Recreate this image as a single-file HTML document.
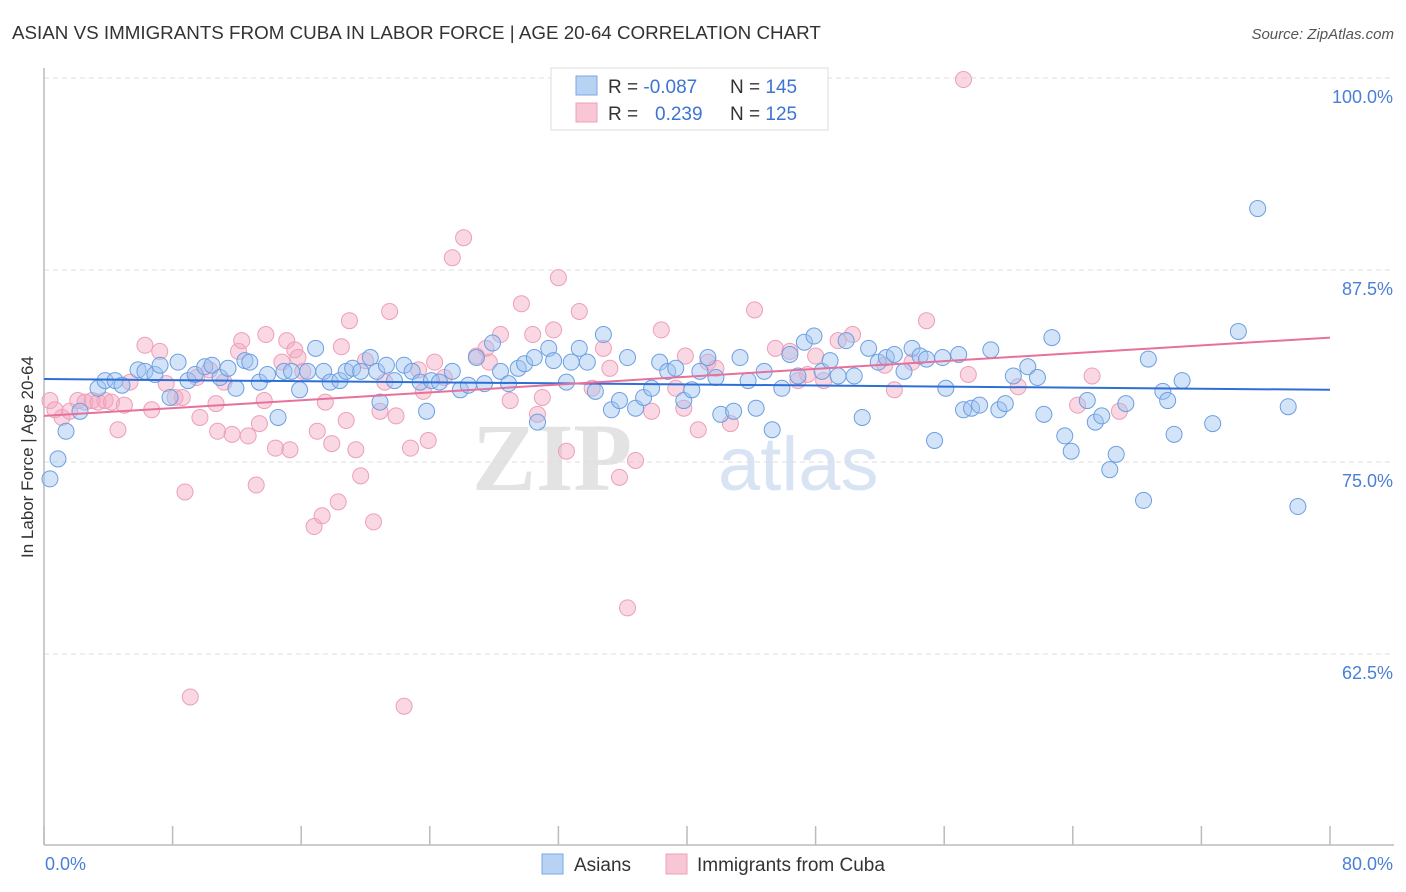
<!DOCTYPE html>
<html><head><meta charset="utf-8"><style>
body{margin:0;background:#fff;font-family:"Liberation Sans",sans-serif;}
svg{display:block}
</style></head><body>
<svg id="chart" width="1406" height="892" xmlns="http://www.w3.org/2000/svg">
<text x="12" y="39" font-size="18.8" fill="#333">ASIAN VS IMMIGRANTS FROM CUBA IN LABOR FORCE | AGE 20-64 CORRELATION CHART</text>
<text x="1394" y="39" font-size="15" fill="#555" text-anchor="end" font-style="italic">Source: ZipAtlas.com</text>
<text transform="translate(33,457) rotate(-90)" font-size="17" fill="#333" text-anchor="middle">In Labor Force | Age 20-64</text>
<g>
<text x="632" y="490" font-size="96" fill="#ddd" font-family="Liberation Serif,serif" text-anchor="end" font-weight="bold" opacity="0.8">ZIP</text>
<text x="718" y="490" font-size="76" fill="#c8d8f0" opacity="0.7">atlas</text>
</g>
<g id="grid"></g><g id="axes"></g><g id="pink"></g><g id="blue"></g><g id="trend"></g>
<g>
<rect x="551" y="68" width="277" height="62" fill="#fff" stroke="#ddd"/>
<rect x="576" y="76" width="21" height="19" fill="#b8d2f4" stroke="#7aa8e6"/>
<rect x="576" y="103" width="21" height="19" fill="#f9c6d5" stroke="#eca0b8"/>
<text x="608" y="93" font-size="19" fill="#333">R = <tspan fill="#3c74d0">-0.087</tspan></text>
<text x="730" y="93" font-size="19" fill="#333">N = <tspan fill="#3c74d0">145</tspan></text>
<text x="608" y="120" font-size="19" fill="#333">R = <tspan fill="#3c74d0" x="655">0.239</tspan></text>
<text x="730" y="120" font-size="19" fill="#333">N = <tspan fill="#3c74d0">125</tspan></text>
</g>
<g>
<rect x="542" y="854" width="21" height="20" fill="#b8d2f4" stroke="#7aa8e6"/>
<text x="574" y="871" font-size="19" fill="#333">Asians</text>
<rect x="666" y="854" width="21" height="20" fill="#f9c6d5" stroke="#eca0b8"/>
<text x="697" y="871" font-size="19" fill="#333">Immigrants from Cuba</text>
</g>
</svg>
<script>
const yTicks=[100,87.5,75,62.5];
const yTickLabels=["100.0%","87.5%","75.0%","62.5%"];
const xTicks=[0,8,16,24,32,40,48,56,64,72,80];
const xEndLabels=["0.0%","80.0%"];
const blueX=[0.37,0.87,1.37,2.24,3.36,3.8,4.42,4.85,5.85,6.28,6.9,7.22,7.84,8.34,8.96,9.4,10.0,10.45,10.95,11.45,11.94,12.5,12.8,13.4,13.9,14.56,14.93,15.4,15.9,16.4,16.9,17.4,17.8,18.4,18.8,19.2,19.7,20.3,20.7,20.9,21.3,21.8,22.4,22.9,23.4,23.8,24.1,24.6,25.4,25.9,26.4,26.9,27.4,27.9,28.4,28.9,29.5,29.9,30.5,30.7,31.4,31.7,32.5,32.8,33.3,33.8,34.3,34.8,35.3,35.8,36.3,36.8,37.3,37.8,38.3,38.8,39.3,39.8,40.3,40.8,41.3,41.8,42.1,42.9,43.3,43.8,44.3,44.8,45.3,45.9,46.4,46.9,47.3,47.9,48.4,48.9,49.4,49.9,50.4,50.9,51.3,51.9,52.4,52.9,53.5,54.0,54.5,54.9,55.4,55.9,56.1,56.9,57.2,57.7,58.2,58.9,59.4,59.8,60.3,61.2,61.8,62.2,62.7,63.5,63.9,64.9,65.4,65.8,66.3,66.7,67.3,68.4,68.7,69.6,69.9,70.3,70.8,72.7,74.3,75.5,77.4,78.0];
const blueY=[73.9,75.2,77.0,78.3,79.8,80.3,80.3,80.0,81.0,80.9,80.7,81.3,79.2,81.5,80.3,80.7,81.2,81.3,80.5,81.1,79.8,81.6,81.5,80.2,80.7,77.9,80.9,80.9,79.7,80.9,82.4,80.9,80.2,80.3,80.9,81.1,80.9,81.8,80.9,78.9,81.3,80.3,81.3,80.9,80.2,78.3,80.3,80.2,80.9,79.7,80.0,81.8,80.1,82.75,80.9,80.1,81.1,81.4,81.8,77.6,82.4,81.6,80.2,81.5,82.4,81.5,79.6,83.3,78.4,79.0,81.8,78.5,79.2,79.8,81.5,80.9,81.1,79.0,79.7,80.9,81.8,80.5,78.1,78.3,81.8,80.3,78.5,80.9,77.1,79.8,82.0,80.6,82.8,83.2,80.9,81.6,80.6,82.9,80.6,77.9,82.4,81.5,81.8,82.0,80.9,82.4,81.9,81.7,76.4,81.8,79.8,82.0,78.4,78.5,78.7,82.3,78.4,78.8,80.6,81.2,80.5,78.1,83.1,76.7,75.7,79.0,77.6,78.0,74.5,75.5,78.8,72.5,81.7,79.6,79.0,76.8,80.3,77.5,83.5,91.5,78.6,72.1];
const pinkX=[0.37,0.68,1.12,1.6,2.1,2.55,3.0,3.36,3.8,4.2,4.6,5.0,5.35,6.28,6.7,7.2,7.6,8.15,8.6,8.77,9.1,9.5,9.7,10.3,10.7,10.8,11.2,11.7,12.1,12.3,12.7,13.2,13.4,13.7,13.8,14.4,14.8,15.1,15.3,15.6,15.8,16.1,16.8,17.0,17.3,17.5,17.9,18.3,18.5,18.8,19.0,19.4,19.7,20.0,20.5,20.9,21.2,21.5,21.9,22.4,22.8,23.3,23.6,23.9,24.3,24.9,25.4,26.1,26.9,27.5,27.7,28.4,29.0,29.7,30.4,30.7,31.0,31.7,32.0,32.5,33.3,34.1,34.8,35.2,35.8,36.3,36.8,37.8,38.4,39.3,39.8,39.9,40.7,41.3,41.8,42.7,44.2,45.5,46.4,46.9,47.5,48.0,48.5,49.4,50.3,52.3,52.9,54.0,54.9,57.2,57.5,60.6,64.3,65.2,66.9];
const pinkY=[79.0,78.4,77.9,78.3,79.0,78.9,79.0,78.9,79.0,78.9,77.1,78.7,80.2,82.6,78.4,82.2,80.1,79.2,79.2,73.05,59.7,80.5,77.9,81.0,78.8,77.0,80.2,76.8,82.2,82.9,76.7,73.5,77.5,79.0,83.3,75.9,81.5,82.9,75.8,82.3,81.8,80.9,70.8,77.0,71.5,78.9,76.2,72.4,82.5,77.7,84.2,75.8,74.1,81.6,71.1,78.3,80.2,84.8,78.0,59.1,75.9,81.0,79.6,76.4,81.5,80.5,88.3,89.6,81.9,82.4,81.5,83.3,79.0,85.3,83.3,78.1,79.2,83.6,87.0,75.7,84.8,79.8,82.4,81.1,74.0,65.5,75.1,78.3,83.6,79.8,78.5,81.9,77.1,81.5,81.1,77.5,84.9,82.4,82.2,80.3,80.7,81.9,80.3,82.9,83.3,81.3,79.7,81.5,84.2,99.9,80.7,79.9,78.7,80.6,78.3];
const blueTrend=[80.4,79.7];
const pinkTrend=[78.0,83.1];
const NS="http://www.w3.org/2000/svg";
const X0=44,X1=1330,Y100=78,PX=192/12.5;
const xs=v=>X0+v/80*(X1-X0);
const ys=v=>Y100+(100-v)*PX;
function mk(tag,attrs,parent){const e=document.createElementNS(NS,tag);for(const k in attrs)e.setAttribute(k,attrs[k]);document.getElementById(parent).appendChild(e);return e;}
yTicks.forEach((t,i)=>{
 const l=mk('line',{x1:X0,x2:1394,y1:ys(t),y2:ys(t),stroke:'#ddd','stroke-dasharray':'5,4'},'grid');
 
 
 const tx=mk('text',{x:1393,y:ys(t)+25,'font-size':18,fill:'#4a7fd6','text-anchor':'end'},'grid');
 tx.textContent=yTickLabels[i];
 
 
});
const ax=mk('line',{x1:X0,x2:1394,y1:845,y2:845,stroke:'#bbb','stroke-width':1.5},'axes');


const ay=mk('line',{x1:X0,x2:X0,y1:68,y2:845,stroke:'#bbb','stroke-width':1.5},'axes');


xTicks.forEach(t=>{
 const l=mk('line',{x1:xs(t),x2:xs(t),y1:826,y2:845,stroke:'#bbb','stroke-width':1.5},'axes');
 
 
});
const xl0=mk('text',{x:45,y:870,'font-size':18,fill:'#4a7fd6'},'axes');xl0.textContent=xEndLabels[0];


const xl1=mk('text',{x:1393,y:870,'font-size':18,fill:'#4a7fd6','text-anchor':'end'},'axes');xl1.textContent=xEndLabels[1];


pinkX.forEach((v,i)=>{
 const c=mk('circle',{cx:xs(v),cy:ys(pinkY[i]),r:8,fill:'rgba(244,168,192,0.45)',stroke:'#ec9fb8','stroke-width':1},'pink');
 
 
});
blueX.forEach((v,i)=>{
 const c=mk('circle',{cx:xs(v),cy:ys(blueY[i]),r:8,fill:'rgba(160,196,240,0.45)',stroke:'#6b9fe2','stroke-width':1},'blue');
 
 
});
const bt=mk('line',{x1:xs(0),x2:xs(80),y1:ys(blueTrend[0]),y2:ys(blueTrend[1]),stroke:'#2e6fd6','stroke-width':2},'trend');


const pt=mk('line',{x1:xs(0),x2:xs(80),y1:ys(pinkTrend[0]),y2:ys(pinkTrend[1]),stroke:'#e8709a','stroke-width':2},'trend');


</script>
</body></html>
